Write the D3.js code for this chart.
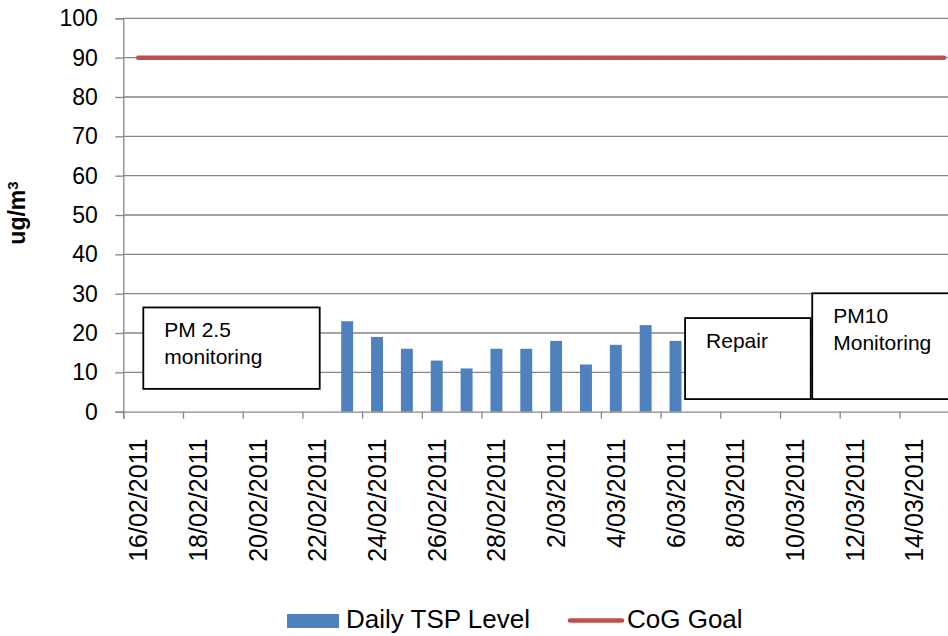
<!DOCTYPE html>
<html>
<head>
<meta charset="utf-8">
<script src="https://cdn.jsdelivr.net/npm/d3@7"></script>
<style>
  body { margin: 0; background: #fff; }
  svg { display: block; font-family: "Liberation Sans", Arial, sans-serif; }
</style>
</head>
<body>
<div id="chart"></div>
<script>
// Categories (one per day)
const dates = [
    '16/02/2011', '17/02/2011', '18/02/2011', '19/02/2011', '20/02/2011', '21/02/2011',
    '22/02/2011', '23/02/2011', '24/02/2011', '25/02/2011', '26/02/2011', '27/02/2011',
    '28/02/2011', '1/03/2011', '2/03/2011', '3/03/2011', '4/03/2011', '5/03/2011',
    '6/03/2011', '7/03/2011', '8/03/2011', '9/03/2011', '10/03/2011', '11/03/2011',
    '12/03/2011', '13/03/2011', '14/03/2011', '15/03/2011'
];

// Daily TSP Level (null = no measurement)
const tsp = [
    null, null, null, null, null, null, null,
    23, 19, 16, 13, 11, 16, 16, 18, 12, 17, 22, 18,
    null, null, null, null, null, null, null, null, null
];

// CoG Goal
const goal = dates.map(() => 90);

const yTicks = [0, 10, 20, 30, 40, 50, 60, 70, 80, 90, 100];

// Annotation boxes, spans given in category units and y values
const notes = [
    { lines: ['PM 2.5', 'monitoring'], from: 0.67, to: 6.58, top: 26.5, bottom: 5.8 },
    { lines: ['Repair'], from: 18.82, to: 23.03, top: 23.8, bottom: 3.2 },
    { lines: ['PM10', 'Monitoring'], from: 23.08, to: 28.6, top: 30.1, bottom: 3.2 }
];

const width = 948, height = 636;
const plotLeft = 123.3, plotTop = 18.3, plotBottom = 411.7;
const step = 29.85;
const plotRight = plotLeft + step * dates.length;

const svg = d3.select('#chart')
    .append('svg')
    .attr('width', width)
    .attr('height', height);

const x = d3.scaleBand()
    .domain(dates)
    .range([plotLeft, plotRight])
    .paddingInner(0.6)
    .paddingOuter(0.3);

// continuous position in category units
const xPos = d3.scaleLinear().domain([0, dates.length]).range([plotLeft, plotRight]);

const y = d3.scaleLinear().domain([0, 100]).range([plotBottom, plotTop]);

// Gridlines
svg.append('g')
    .selectAll('line')
    .data(yTicks.slice(1))
    .join('line')
    .attr('x1', plotLeft)
    .attr('x2', plotRight)
    .attr('y1', d => y(d))
    .attr('y2', d => y(d))
    .attr('stroke', '#868686')
    .attr('stroke-width', 1.3);

// Y axis
const yAxis = svg.append('g')
    .attr('transform', `translate(${plotLeft},0)`)
    .call(d3.axisLeft(y).tickValues(yTicks).tickSize(8).tickPadding(17.5));
yAxis.select('.domain').attr('stroke', '#868686').attr('stroke-width', 1.3);
yAxis.selectAll('.tick line').attr('stroke', '#868686').attr('stroke-width', 1.3);
yAxis.selectAll('.tick text')
    .attr('fill', '#000')
    .style('font-size', '23px')
    .style('font-family', '"Liberation Sans", Arial, sans-serif');

// Y axis title
const yTitle = svg.append('text')
    .attr('transform', 'translate(25,213) rotate(-90)')
    .attr('text-anchor', 'middle')
    .style('font-size', '23px')
    .style('font-weight', 'bold')
    .attr('fill', '#000');
yTitle.append('tspan').text('ug/m');
yTitle.append('tspan').attr('dy', '-0.45em').style('font-size', '15px').text('3');

// Bars
svg.append('g')
    .selectAll('rect')
    .data(dates.map((d, i) => ({ date: d, value: tsp[i] })).filter(d => d.value !== null))
    .join('rect')
    .attr('x', d => x(d.date))
    .attr('width', x.bandwidth())
    .attr('y', d => y(d.value))
    .attr('height', d => y(0) - y(d.value))
    .attr('fill', '#4F81BD');

// X axis
const xAxis = svg.append('g')
    .attr('transform', `translate(0,${plotBottom})`)
    .call(d3.axisBottom(xPos)
        .tickValues(d3.range(0, dates.length + 1, 2))
        .tickSize(7)
        .tickFormat(''));
xAxis.select('.domain').attr('stroke', '#868686').attr('stroke-width', 1.3);
xAxis.selectAll('.tick line').attr('stroke', '#868686').attr('stroke-width', 1.3);

svg.append('g')
    .selectAll('text')
    .data(dates.filter((d, i) => i % 2 === 0))
    .join('text')
    .attr('transform', d => `translate(${x(d) + x.bandwidth() / 2},438.5) rotate(-90)`)
    .attr('text-anchor', 'end')
    .attr('dy', '0.36em')
    .style('font-size', '25px')
    .attr('fill', '#000')
    .text(d => d);

// CoG Goal line
const line = d3.line()
    .x((d, i) => x(dates[i]) + x.bandwidth() / 2)
    .y(d => y(d));

svg.append('path')
    .datum(goal)
    .attr('d', line)
    .attr('fill', 'none')
    .attr('stroke', '#C0504D')
    .attr('stroke-width', 4.5)
    .attr('stroke-linecap', 'round');

// Annotation boxes
const note = svg.append('g')
    .selectAll('g')
    .data(notes)
    .join('g')
    .attr('transform', d => `translate(${xPos(d.from)},${y(d.top)})`);

note.append('rect')
    .attr('width', d => xPos(d.to) - xPos(d.from))
    .attr('height', d => y(d.bottom) - y(d.top))
    .attr('fill', '#fff')
    .attr('stroke', '#000')
    .attr('stroke-width', 1.8);

note.append('text')
    .style('font-size', '21px')
    .attr('fill', '#000')
    .selectAll('tspan')
    .data(d => d.lines)
    .join('tspan')
    .attr('x', 21)
    .attr('y', (d, i) => 30 + i * 26.5)
    .text(d => d);

// Legend
const legend = svg.append('g');
legend.append('rect')
    .attr('x', 287).attr('y', 614)
    .attr('width', 52).attr('height', 14)
    .attr('fill', '#4F81BD');
legend.append('text')
    .attr('x', 346).attr('y', 628)
    .style('font-size', '26px')
    .attr('fill', '#000')
    .text('Daily TSP Level');
legend.append('line')
    .attr('x1', 570).attr('x2', 622)
    .attr('y1', 620.5).attr('y2', 620.5)
    .attr('stroke', '#C0504D')
    .attr('stroke-width', 4.5)
    .attr('stroke-linecap', 'round');
legend.append('text')
    .attr('x', 627).attr('y', 628)
    .style('font-size', '26px')
    .attr('fill', '#000')
    .text('CoG Goal');
</script>
</body>
</html>
